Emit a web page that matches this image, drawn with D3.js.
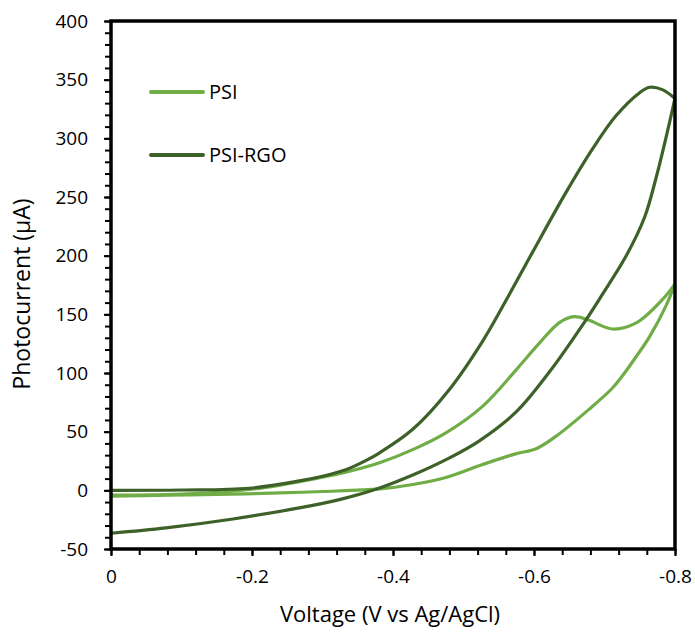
<!DOCTYPE html>
<html><head><meta charset="utf-8">
<script src="https://cdn.jsdelivr.net/npm/d3@7"></script>
<style>body{margin:0;background:#fff}svg{display:block}</style>
</head><body><svg id="c" width="695" height="632"></svg>
<script>
// PSI: forward (0 -> -0.8) and return (-0.8 -> 0) branches
const psiFwdV = [0, -0.08, -0.15, -0.2, -0.24, -0.29, -0.333, -0.381, -0.428, -0.475, -0.527, -0.575, -0.607, -0.636, -0.657, -0.678, -0.711, -0.745, -0.782, -0.8];
const psiFwdI = [-4, -3.6, -1.8, 1, 4.5, 10, 15.5, 23.5, 34.7, 49, 71.6, 102.9, 125, 143, 148, 145, 137.5, 142.7, 162.5, 176];
const psiRevV = [-0.8, -0.787, -0.764, -0.745, -0.726, -0.711, -0.678, -0.631, -0.603, -0.575, -0.527, -0.475, -0.428, -0.381, -0.3, -0.239, -0.15, -0.08, 0];
const psiRevI = [176, 157, 131, 114, 98, 87, 69, 46, 35.5, 31.3, 22, 11, 5, 1.2, -1, -2.2, -3.5, -4.2, -5];
// PSI-RGO
const rgoFwdV = [0, -0.1, -0.196, -0.267, -0.3, -0.333, -0.362, -0.381, -0.428, -0.48, -0.527, -0.56, -0.598, -0.645, -0.683, -0.716, -0.749, -0.764, -0.782, -0.8];
const rgoFwdI = [0, 0.3, 1.8, 8, 12, 17.5, 25.5, 32, 52, 86, 127, 161.5, 203, 253.5, 291, 319, 338.5, 343.5, 341.5, 334];
const rgoRevV = [-0.8, -0.787, -0.773, -0.757, -0.73, -0.697, -0.669, -0.622, -0.575, -0.522, -0.478, -0.428, -0.381, -0.324, -0.267, -0.173, -0.078, 0];
const rgoRevI = [334, 300, 266, 233, 199, 167, 141, 101, 67, 42, 27, 13, 2, -7.9, -15, -24.4, -32, -36.6];

const seriesNames = ["PSI", "PSI-RGO"];
const seriesColors = ["#70AD47", "#3D6128"];
const xTickVals = [0, -0.2, -0.4, -0.6, -0.8];
const xTickLabels = ["0", "-0.2", "-0.4", "-0.6", "-0.8"];
const yTickVals = [-50, 0, 50, 100, 150, 200, 250, 300, 350, 400];
const yTickLabels = ["-50", "0", "50", "100", "150", "200", "250", "300", "350", "400"];

const svg = d3.select("#c");
const L = 111, R = 675, T = 21, B = 549;
const x = d3.scaleLinear().domain([0, -0.8]).range([L, R]);
const y = d3.scaleLinear().domain([-50, 400]).range([B, T]);
const font = "'Open Sans', sans-serif";

const zip = (vs, is) => vs.map((v, i) => [v, is[i]]);
const line = d3.line().x(d => x(d[0])).y(d => y(d[1])).curve(d3.curveCatmullRom.alpha(0.5));

const series = [
  {name: seriesNames[0], color: seriesColors[0], branches: [zip(psiFwdV, psiFwdI), zip(psiRevV, psiRevI)]},
  {name: seriesNames[1], color: seriesColors[1], branches: [zip(rgoFwdV, rgoFwdI), zip(rgoRevV, rgoRevI)]}
];

const plot = svg.append("g");
series.forEach(s => {
  s.branches.forEach(b => {
    plot.append("path").attr("d", line(b)).attr("fill", "none")
      .attr("stroke", s.color).attr("stroke-width", 3.2).attr("stroke-linejoin", "round");
  });
});

// minor ticks
const xMinor = d3.range(0, 21).map(i => -i * 0.04);
const yMinor = d3.range(0, 46).map(i => -50 + i * 10);
svg.append("g").attr("transform", `translate(0,${B})`)
  .call(d3.axisBottom(x).tickValues(xMinor).tickSize(6).tickFormat(""))
  .call(g => g.select(".domain").remove())
  .call(g => g.selectAll("line").attr("stroke", "#000").attr("stroke-width", 2));
svg.append("g").attr("transform", `translate(${L},0)`)
  .call(d3.axisLeft(y).tickValues(yMinor).tickSize(6).tickFormat(""))
  .call(g => g.select(".domain").remove())
  .call(g => g.selectAll("line").attr("stroke", "#000").attr("stroke-width", 2));

// major tick labels
const xAx = svg.append("g").attr("transform", `translate(0,${B})`)
  .call(d3.axisBottom(x).tickValues(xTickVals).tickSize(7).tickPadding(14)
    .tickFormat((d, i) => xTickLabels[i]));
xAx.select(".domain").remove();
xAx.selectAll("line").attr("stroke", "#000").attr("stroke-width", 2);
xAx.selectAll("text").attr("font-family", font).attr("font-size", 19).attr("fill", "#000");

const yAx = svg.append("g").attr("transform", `translate(${L},0)`)
  .call(d3.axisLeft(y).tickValues(yTickVals).tickSize(7).tickPadding(16)
    .tickFormat((d, i) => yTickLabels[i]));
yAx.select(".domain").remove();
yAx.selectAll("line").attr("stroke", "#000").attr("stroke-width", 2);
yAx.selectAll("text").attr("font-family", font).attr("font-size", 19).attr("fill", "#000");

// frame
svg.append("rect").attr("x", L).attr("y", T).attr("width", R - L).attr("height", B - T)
  .attr("fill", "none").attr("stroke", "#000").attr("stroke-width", 3.5);

// axis titles
svg.append("text").attr("x", (L + R) / 2 - 3).attr("y", 622).attr("text-anchor", "middle")
  .attr("font-family", font).attr("font-size", 22).attr("fill", "#000")
  .text("Voltage (V vs Ag/AgCl)");
svg.append("text").attr("transform", `translate(30,294) rotate(-90)`)
  .attr("text-anchor", "middle").attr("font-family", font).attr("font-size", 23).attr("fill", "#000")
  .text("Photocurrent (µA)");

// legend
const legY = [92, 155];
series.forEach((s, i) => {
  svg.append("line").attr("x1", 151).attr("x2", 203).attr("y1", legY[i]).attr("y2", legY[i])
    .attr("stroke", s.color).attr("stroke-width", 4).attr("stroke-linecap", "round");
  svg.append("text").attr("x", 209).attr("y", legY[i] + 7).attr("font-family", font)
    .attr("font-size", 20).attr("fill", "#000").text(s.name);
});
</script>
</body></html>
